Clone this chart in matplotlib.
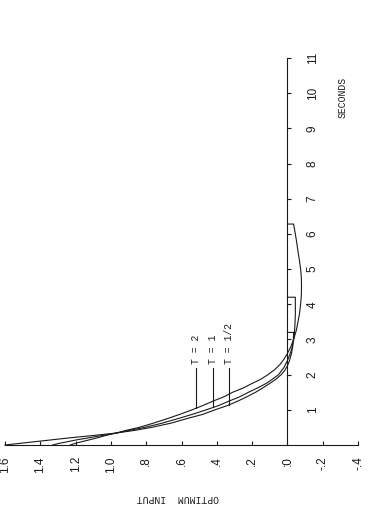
import numpy as np
import matplotlib.pyplot as plt

t_half = [0, 0.05, 0.1, 0.15, 0.2, 0.27, 0.34, 0.42, 0.5, 0.62, 0.75, 0.87, 1.0, 1.12,
          1.25, 1.37, 1.5, 1.62, 1.75, 1.87, 2.0, 2.12, 2.25, 2.4, 2.6, 2.8, 3.0, 3.2, 3.2]
u_half = [1.60, 1.51, 1.42, 1.33, 1.24, 1.10, 0.97, 0.86, 0.77, 0.66, 0.57, 0.48, 0.41, 0.34,
          0.28, 0.23, 0.18, 0.14, 0.10, 0.065, 0.035, 0.015, 0.0, -0.012, -0.023, -0.03,
          -0.034, -0.035, 0.0]

t_one = [0, 0.05, 0.1, 0.15, 0.2, 0.27, 0.34, 0.42, 0.5, 0.62, 0.75, 0.87, 1.0, 1.12,
         1.25, 1.37, 1.5, 1.62, 1.75, 1.87, 2.0, 2.2, 2.4, 2.6, 2.8, 3.0, 3.2, 3.45, 3.7,
         3.95, 4.2, 4.2]
u_one = [1.33, 1.29, 1.24, 1.19, 1.13, 1.05, 0.97, 0.89, 0.81, 0.71, 0.62, 0.54, 0.46, 0.39,
         0.33, 0.27, 0.22, 0.17, 0.12, 0.085, 0.05, 0.02, 0.0, -0.016, -0.028, -0.036,
         -0.04, -0.043, -0.045, -0.045, -0.045, 0.0]

t_two = [0, 0.05, 0.1, 0.15, 0.2, 0.27, 0.34, 0.42, 0.5, 0.62, 0.75, 0.87, 1.0, 1.12,
         1.25, 1.37, 1.5, 1.62, 1.75, 1.87, 2.0, 2.15, 2.3, 2.45, 2.6, 2.8, 3.0, 3.25,
         3.5, 3.75, 4.0, 4.25, 4.5, 4.75, 5.0, 5.25, 5.5, 5.75, 6.0, 6.28, 6.28]
u_two = [1.23, 1.20, 1.16, 1.12, 1.08, 1.03, 0.97, 0.91, 0.84, 0.76, 0.68, 0.61, 0.54, 0.48,
         0.42, 0.36, 0.31, 0.25, 0.20, 0.15, 0.11, 0.07, 0.04, 0.018, 0.0, -0.02, -0.035,
         -0.05, -0.06, -0.069, -0.075, -0.079, -0.08, -0.079, -0.075, -0.068, -0.06,
         -0.053, -0.045, -0.035, 0.0]

curve_labels = ['T = 2', 'T = 1', 'T = 1/2']
pointer_u = [0.52, 0.42, 0.33]

u_ticks = [1.6, 1.4, 1.2, 1.0, 0.8, 0.6, 0.4, 0.2, 0.0, -0.2, -0.4]
u_ticklabels = ['1.6', '1.4', '1.2', '1.0', '.8', '.6', '.4', '.2', ':0', '-.2', '-.4']
t_ticks = list(range(1, 12))

fig = plt.figure(figsize=(3.72, 5.19), dpi=100)
# page is turned: input runs left->right (decreasing), seconds run upward
ax = fig.add_axes([5 / 372, 74 / 519, 353 / 372, 387 / 519])
ax.set_xlim(1.6, -0.4)
ax.set_ylim(0, 11)

ink = '#1a1a1a'
curves = [(t_two, u_two), (t_one, u_one), (t_half, u_half)]
for t, u in curves:
    ax.plot(u, t, color=ink, lw=0.8, clip_on=False)

# pointer lines and labels
for (t, u), lab, pu in zip(curves, curve_labels, pointer_u):
    t = np.array(t)
    u = np.array(u)
    m = t < 2
    t_hit = np.interp(pu, u[m][::-1], t[m][::-1])
    ax.plot([pu, pu], [t_hit, 2.2], color=ink, lw=0.8)
    ax.text(pu, 2.3, lab, rotation=90, ha='center', va='bottom',
            family='Liberation Mono', fontsize=7, color=ink)

for s in ['top', 'left']:
    ax.spines[s].set_visible(False)
ax.spines['right'].set_position(('data', 0))
ax.spines['bottom'].set_position(('data', 0))
for s in ['right', 'bottom']:
    ax.spines[s].set_linewidth(0.8)
    ax.spines[s].set_color(ink)

ax.set_xticks(u_ticks)
ax.set_xticklabels(u_ticklabels, rotation=90, family='Liberation Sans')
ax.set_yticks(t_ticks)
ax.set_yticklabels([str(v) for v in t_ticks], rotation=90, va='center',
                   family='Liberation Sans')
ax.yaxis.tick_right()
ax.tick_params(axis='x', direction='in', length=3, width=0.8, pad=8,
               labelsize=8.5, colors=ink)
ax.tick_params(axis='y', direction='out', length=3, width=0.8, pad=11,
               labelsize=8.5, colors=ink)

fig.text(343 / 372, 1 - 97 / 519, 'SECONDS', rotation=90, ha='center', va='center',
         family='Liberation Mono', fontsize=7, color=ink)
fig.text(178 / 372, 1 - 498 / 519, 'OPTIMUM  INPUT', rotation=180, ha='center',
         va='center', family='Liberation Mono', fontsize=7, color=ink)

fig.savefig('out.png', dpi=100)
